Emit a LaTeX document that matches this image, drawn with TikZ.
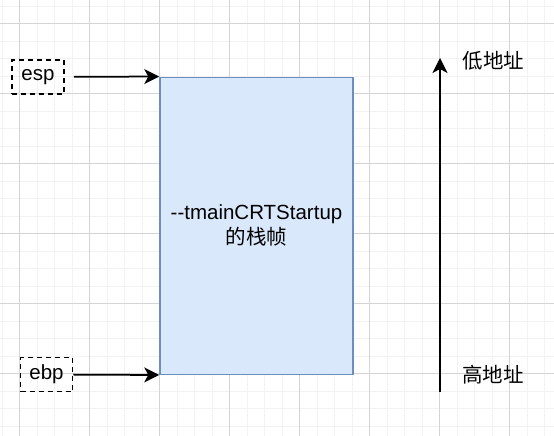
\documentclass[tikz,border=0pt]{standalone}
\usepackage{fontspec}
\setmainfont{Liberation Sans}
\newfontfamily\cjk{Noto Sans CJK SC}
\usepackage{tikz}
\usetikzlibrary{arrows.meta, positioning}
\definecolor{colorFill}{HTML}{DAE8FC}
\definecolor{colorEdge}{HTML}{6C8EBF}
\definecolor{colorMinor}{HTML}{F2F2F2}
\definecolor{colorMajor}{HTML}{D4D4D4}

\tikzset{
    minorline/.style={colorMinor, line width=0.9pt},
    majorline/.style={colorMajor, line width=0.9pt},
    regbox/.style={draw, dashed, dash pattern=on 5pt off 4pt, line width=1.75pt, minimum width=52pt, minimum height=34pt, inner sep=0pt},
    framebox/.style={draw=colorEdge, fill=colorFill, line width=1.5pt, minimum width=193pt, minimum height=297pt, inner sep=0pt, align=center},
    ptr/.style={line width=1.75pt, -{Stealth[length=15pt, width=15pt, inset=4pt]}}
}

\begin{document}
\begin{tikzpicture}[x=1pt, y=-1pt, font=\fontsize{20.5}{25}\selectfont]
        \useasboundingbox[fill=white] (0,0) rectangle (554,436);
        % background grid
        \foreach \i in {0,...,31}
            \draw[minorline] ({2+17.5*\i},0) -- ({2+17.5*\i},436);
        \foreach \i in {0,...,24}
            \draw[minorline] (0,{6+17.5*\i}) -- (554,{6+17.5*\i});
        \foreach \i in {0,...,7}
            \draw[majorline] ({19.5+70*\i},0) -- ({19.5+70*\i},436);
        \foreach \i in {0,...,5}
            \draw[majorline] (0,{23.5+70*\i}) -- (554,{23.5+70*\i});

        % stack frame
        \node[framebox] (frame) at (256.5,225.75) {-{}-tmainCRTStartup\\{\cjk 的栈帧}};

        % registers
        \node[regbox] (esp) at (38,77) {esp};
        \node[regbox] (ebp) at (46.5,374.5) {ebp};
        \draw[ptr, shorten <=9pt] (esp) -- (frame.north west);
        \draw[ptr] (ebp) -- (frame.south west);

        % address direction
        \coordinate (bottom) at (440,392);
        \coordinate (top) at (440,58);
        \draw[ptr] (bottom) -- (top);
        \node (low) at (493.5,61) {\cjk 低地址};
        \node (high) at (493,375) {\cjk 高地址};
    \end{tikzpicture}
\end{document}
